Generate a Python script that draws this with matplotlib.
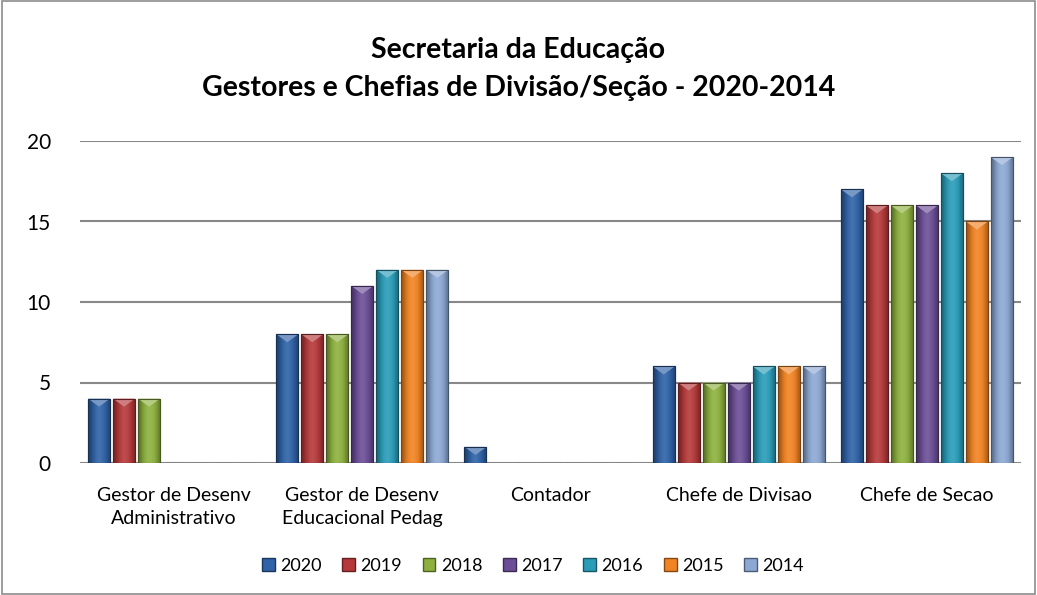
import matplotlib
matplotlib.use("Agg")
import matplotlib.pyplot as plt
import numpy as np
from matplotlib.patches import Polygon, Rectangle, Patch
from matplotlib.colors import to_rgb

plt.rcParams['font.family'] = ['Lato', 'DejaVu Sans']

categories = ["Gestor de Desenv\nAdministrativo", "Gestor de Desenv\nEducacional Pedag",
              "Contador", "Chefe de Divisao", "Chefe de Secao"]
years = ["2020", "2019", "2018", "2017", "2016", "2015", "2014"]
v2020 = [4, 8, 1, 6, 17]
v2019 = [4, 8, 0, 5, 16]
v2018 = [4, 8, 0, 5, 16]
v2017 = [0, 11, 0, 5, 16]
v2016 = [0, 12, 0, 6, 18]
v2015 = [0, 12, 0, 6, 15]
v2014 = [0, 12, 0, 6, 19]
series = [v2020, v2019, v2018, v2017, v2016, v2015, v2014]
colors = ["#2F62A6", "#B5393A", "#8DB03F", "#6B4E96", "#2A9CB8", "#F08323", "#8CA8D3"]
yticks = [0, 5, 10, 15, 20]

W, H = 1037, 595
fig = plt.figure(figsize=(W/100, H/100), dpi=100)
fig.patches.append(Rectangle((0.002, 0.002), 0.996, 0.996, transform=fig.transFigure,
                             fill=False, edgecolor="#8C8C8C", linewidth=1.2))
ax = fig.add_axes([80/W, 1-463/H, (1021-80)/W, (463-141)/H])
ax.set_ylim(0, 20)
ax.set_xlim(-0.5, len(categories)-0.5)
ax.set_yticks(yticks)
ax.yaxis.grid(True, color="#888888", linewidth=1.5)
ax.set_axisbelow(True)
for s in ax.spines.values():
    s.set_visible(False)
ax.tick_params(axis='both', length=0)
ax.tick_params(axis='y', pad=21, labelsize=15)
ax.set_xticks(range(len(categories)))
ax.set_xticklabels(categories, fontsize=14, linespacing=1.45)
ax.tick_params(axis='x', pad=17)

n = len(series)
slot = 0.93 / n
bw = slot * 0.88
x = np.arange(len(categories))

def shade(c, f):
    r = np.array(to_rgb(c))
    if f < 0:
        return tuple(r * (1 + f))
    return tuple(r + (1 - r) * f)

tri_h = 0.5
for i, (vals, c) in enumerate(zip(series, colors)):
    pos = x - 0.93/2 + slot*(i + 0.5)
    bars = ax.bar(pos, vals, width=bw, color=c, edgecolor=shade(c, -0.45), linewidth=0.8, zorder=3)
    grad = np.array([shade(c, f) for f in [-0.35, -0.1, 0.05, 0.12, 0.05, -0.05, -0.3]])[None, :, :]
    for b in bars:
        h = b.get_height()
        if h <= 0:
            continue
        x0, w = b.get_x(), b.get_width()
        im = ax.imshow(grad, extent=(x0, x0+w, 0, h), aspect='auto', zorder=3.5, interpolation='bicubic')
        im.set_clip_path(b)
        th = min(tri_h, h*0.6)
        tri = Polygon([(x0, h), (x0+w, h), (x0+w/2, h-th)], closed=True,
                      facecolor=shade(c, 0.35), edgecolor='none', zorder=4)
        ax.add_patch(tri)
        ax.add_patch(Rectangle((x0, 0), w, h, fill=False, edgecolor=shade(c, -0.5), linewidth=0.8, zorder=4.5))

fig.text(0.5, 1-50/H, "Secretaria da Educação", ha='center', va='center', fontsize=20.5, fontweight='bold')
fig.text(0.5, 1-88/H, "Gestores e Chefias de Divisão/Seção - 2020-2014", ha='center', va='center',
         fontsize=20.5, fontweight='bold')

handles = [Patch(facecolor=c, edgecolor=shade(c, -0.45)) for c in colors]
fig.legend(handles, years, loc='center', bbox_to_anchor=(533/W, 1-566/H), ncol=n, frameon=False,
           fontsize=13, handlelength=0.7, handleheight=0.7, handletextpad=0.3, columnspacing=1.15)

fig.savefig("out.png", dpi=100)
